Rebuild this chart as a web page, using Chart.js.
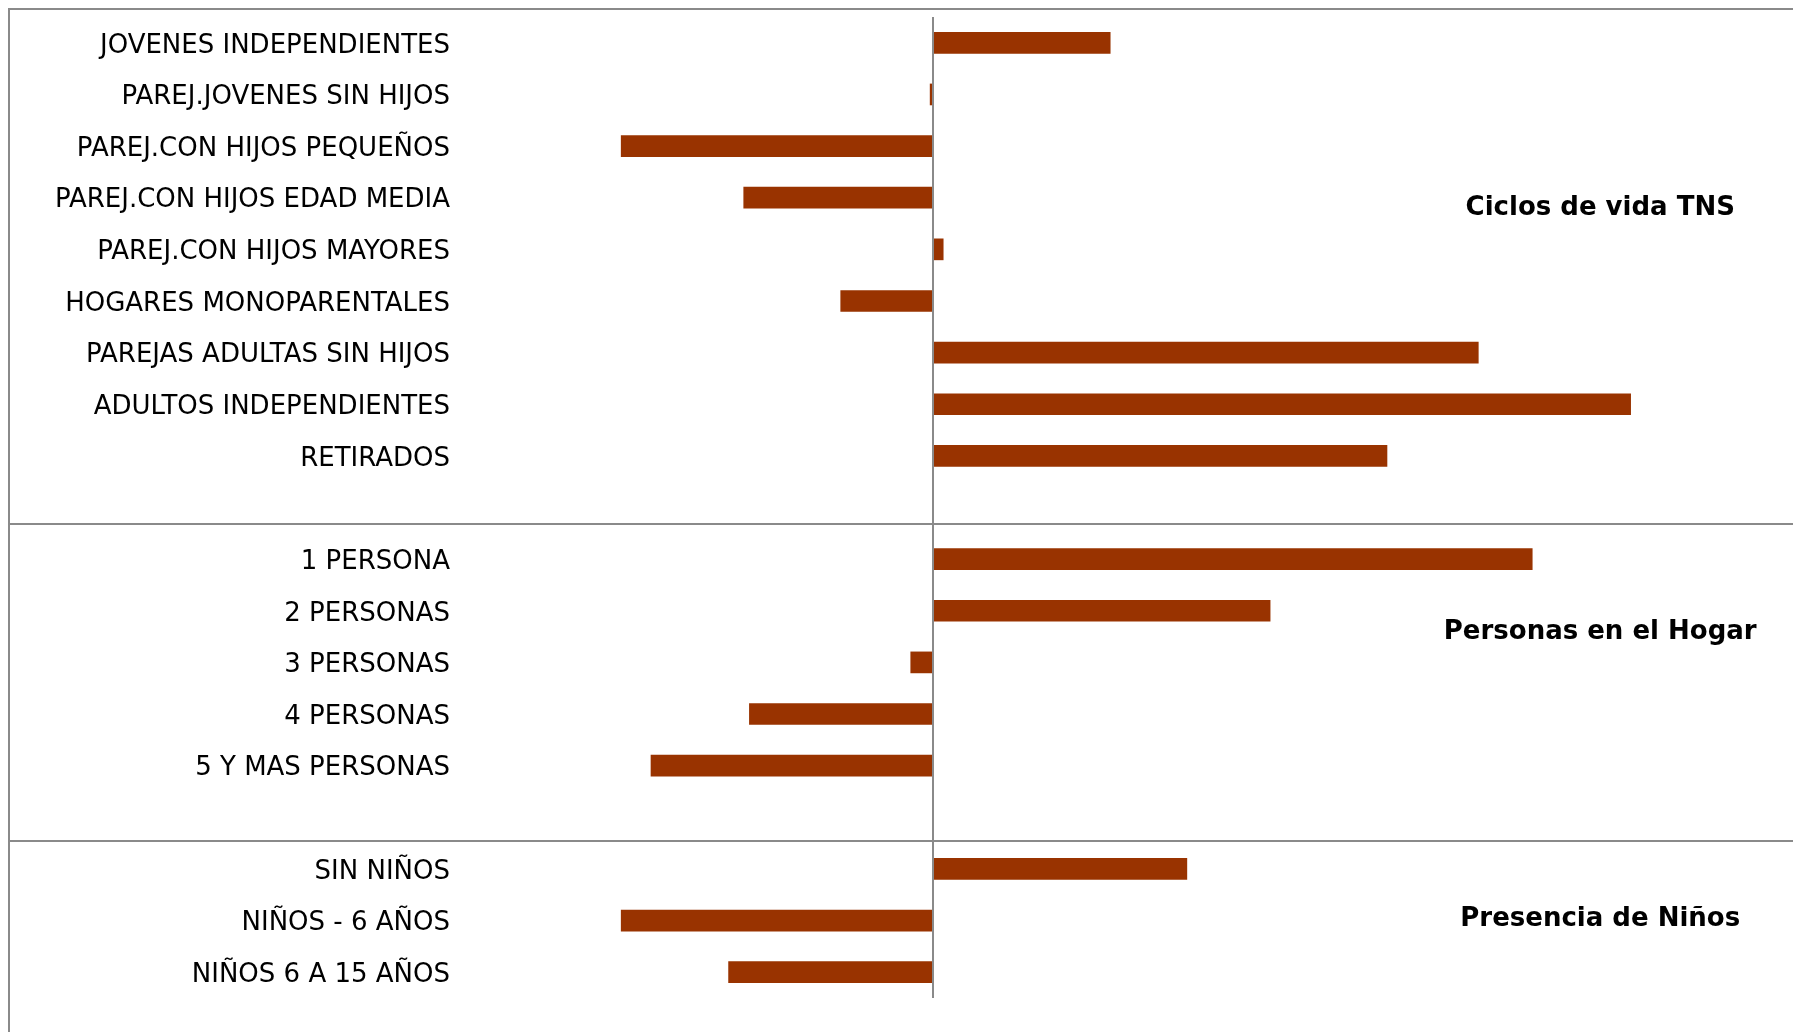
<!DOCTYPE html>
<html lang="es">
<head>
  <meta charset="UTF-8" />
  <title>Ciclos de vida TNS</title>
  <script src="https://cdn.jsdelivr.net/npm/chart.js"></script>
  <style>
    html, body { margin: 0; padding: 0; background: #fff; overflow: hidden; }
    #wrap { width: 1793px; height: 1032px; position: relative; }
  </style>
</head>
<body>
<div id="wrap"><canvas id="chart"></canvas></div>
<script>
  // categories, with empty slots between the three groups
  const categories = [
    'JOVENES INDEPENDIENTES', 'PAREJ.JOVENES SIN HIJOS', 'PAREJ.CON HIJOS PEQUEÑOS',
    'PAREJ.CON HIJOS EDAD MEDIA', 'PAREJ.CON HIJOS MAYORES', 'HOGARES MONOPARENTALES',
    'PAREJAS ADULTAS SIN HIJOS', 'ADULTOS INDEPENDIENTES', 'RETIRADOS',
    '',
    '1 PERSONA', '2 PERSONAS', '3 PERSONAS', '4 PERSONAS', '5 Y MAS PERSONAS',
    '',
    'SIN NIÑOS', 'NIÑOS - 6 AÑOS', 'NIÑOS 6 A 15 AÑOS'
  ];
  const values = [
    37.5, -0.7, -66, -40.1, 2.2, -19.6, 115.3, 147.5, 96,
    null,
    126.7, 71.3, -4.8, -38.9, -59.7,
    null,
    53.7, -66, -43.3
  ];
  // group titles and where they sit (category index)
  const groupTitles = ['Ciclos de vida TNS', 'Personas en el Hogar', 'Presencia de Niños'];
  const groupTitlePos = [3.2, 11.42, 16.98];
  const groupDividers = [9.31, 15.45];

  const lineColor = '#8a8a8a';

  const framePlugin = {
    id: 'frame',
    afterDraw(chart) {
      const ctx = chart.ctx;
      const x = chart.scales.x, y = chart.scales.y;
      const area = chart.chartArea;
      ctx.save();
      ctx.strokeStyle = lineColor;
      ctx.lineWidth = 2;
      // outer frame (top + left)
      ctx.beginPath();
      ctx.moveTo(9, chart.height);
      ctx.lineTo(9, area.top - 8);
      ctx.lineTo(chart.width, area.top - 8);
      ctx.stroke();
      // dividers between groups
      groupDividers.forEach(v => {
        const py = Math.round(y.getPixelForValue(v));
        ctx.beginPath();
        ctx.moveTo(9, py);
        ctx.lineTo(chart.width, py);
        ctx.stroke();
      });
      // zero axis
      const zx = Math.round(x.getPixelForValue(0));
      ctx.beginPath();
      ctx.moveTo(zx, area.top);
      ctx.lineTo(zx, area.bottom);
      ctx.stroke();
      // group titles
      ctx.fillStyle = '#000';
      ctx.font = 'bold 26px "DejaVu Sans"';
      ctx.textAlign = 'center';
      ctx.textBaseline = 'middle';
      groupTitles.forEach((t, i) => {
        ctx.fillText(t, x.getPixelForValue(141), y.getPixelForValue(groupTitlePos[i]));
      });
      ctx.restore();
    }
  };

  new Chart(document.getElementById('chart'), {
    type: 'bar',
    data: {
      labels: categories,
      datasets: [{
        data: values,
        backgroundColor: '#993300',
        borderWidth: 0,
        categoryPercentage: 1,
        barPercentage: 0.42
      }]
    },
    options: {
      indexAxis: 'y',
      responsive: true,
      maintainAspectRatio: false,
      animation: false,
      layout: { padding: { top: 17, bottom: 34, left: 0, right: 13 } },
      plugins: { legend: { display: false }, tooltip: { enabled: false } },
      scales: {
        x: {
          display: false,
          min: -100,
          max: 179
        },
        y: {
          grid: { display: false, drawTicks: false },
          border: { display: false },
          ticks: {
            autoSkip: false,
            padding: 10,
            labelOffset: 3,
            color: '#000',
            font: { family: '"DejaVu Sans"', size: 26 }
          },
          afterFit(scale) {
            scale.width = 460;
            scale.paddingTop = 0;
            scale.paddingBottom = 0;
          }
        }
      }
    },
    plugins: [framePlugin]
  });
</script>
</body>
</html>
